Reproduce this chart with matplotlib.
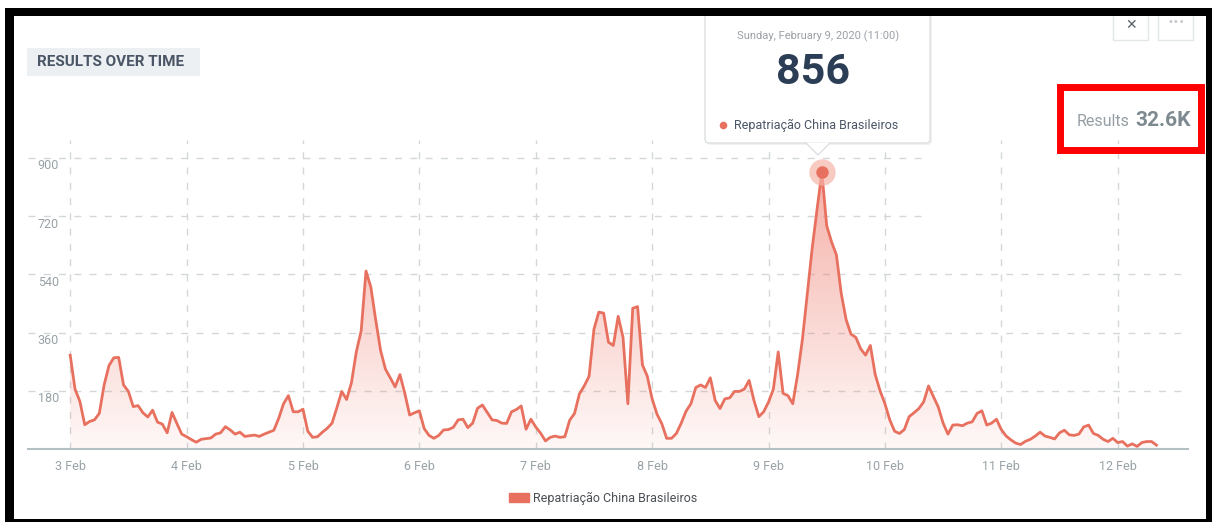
import numpy as np
import pandas as pd
import matplotlib
matplotlib.use("Agg")
import matplotlib.pyplot as plt
import matplotlib.dates as mdates
import matplotlib.transforms as mtransforms
from matplotlib.patches import Rectangle, FancyBboxPatch, Polygon, Patch

# hourly mentions, 3 Feb 2020 00:00 -> 12 Feb 2020 08:00
start = "2020-02-03 00:00"
series_name = "Repatriação China Brasileiros"
values = [
    # 3 Feb
    290, 185, 147, 75, 85, 90, 110, 198, 258, 282, 283, 198,
    178, 131, 134, 112, 99, 120, 83, 77, 50, 113, 79, 46,
    # 4 Feb
    38, 29, 21, 30, 32, 34, 46, 50, 69, 59, 46, 52,
    39, 41, 43, 39, 46, 52, 58, 95, 140, 165, 115, 115,
    # 5 Feb
    123, 55, 36, 38, 52, 64, 80, 128, 178, 153, 205, 300,
    365, 550, 500, 399, 305, 247, 220, 192, 230, 172, 105, 112,
    # 6 Feb
    118, 63, 42, 33, 42, 59, 60, 67, 90, 92, 66, 80,
    126, 136, 113, 90, 88, 80, 79, 115, 122, 133, 61, 92,
    # 7 Feb
    68, 49, 25, 36, 40, 36, 38, 89, 110, 170, 195, 225,
    370, 423, 420, 330, 320, 410, 345, 140, 435, 440, 260, 225,
    # 8 Feb
    155, 108, 78, 33, 33, 48, 80, 117, 140, 190, 198, 190,
    220, 150, 125, 155, 158, 178, 178, 185, 212, 150, 100, 115,
    # 9 Feb
    145, 185, 300, 172, 165, 140, 230, 340, 480, 620, 740, 856,
    690, 640, 600, 480, 400, 355, 345, 310, 290, 320, 230, 180,
    # 10 Feb
    140, 90, 55, 48, 60, 100, 112, 125, 146, 195, 162, 130,
    80, 46, 74, 75, 72, 80, 84, 110, 118, 74, 80, 92,
    # 11 Feb
    60, 40, 28, 18, 14, 24, 30, 40, 52, 40, 36, 31,
    50, 58, 44, 42, 46, 68, 74, 48, 42, 30, 23, 33,
    # 12 Feb
    20, 23, 9, 16, 8, 20, 23, 23, 12,
]
y_ticks = [180, 360, 540, 720, 900]
peak_time = "2020-02-09 11:00"
peak_label = "Sunday, February 9, 2020 (11:00)"
total_label = "32.6K"

times = pd.date_range(start, periods=len(values), freq="h")
vals = np.array(values, dtype=float)

W, H = 1212, 522
line_c = "#e8705f"
grid_c = "#d4d7d9"
tick_c = "#98a2a7"

plt.rcParams["font.family"] = ["Roboto", "DejaVu Sans"]

fig = plt.figure(figsize=(W / 100, H / 100), dpi=100)
fig.patch.set_facecolor("white")

# main plot area, placed in pixels
L, R, T, B = 28, 1188, 140, 449
ax = fig.add_axes([L / W, 1 - B / H, (R - L) / W, (B - T) / H])
ax.set_facecolor("none")

t0 = pd.Timestamp(start)
ax.set_xlim(t0 - pd.Timedelta(hours=8.7), t0 + pd.Timedelta(hours=230.5))
ax.set_ylim(0, 955)

# gradient fill under the line
poly = ax.fill_between(times, vals, 0, color="none", lw=0)
x0n, x1n = mdates.date2num(times[0]), mdates.date2num(times[-1])
grad = np.zeros((256, 1, 4))
grad[..., 0], grad[..., 1], grad[..., 2] = 0.93, 0.45, 0.39
grad[:, 0, 3] = np.linspace(0.05, 0.62, 256)
im = ax.imshow(grad, extent=[x0n, x1n, 0, 955], origin="lower",
               aspect="auto", zorder=1, interpolation="bilinear")
im.set_clip_path(poly.get_paths()[0], transform=ax.transData)
ax.set_xlim(t0 - pd.Timedelta(hours=8.7), t0 + pd.Timedelta(hours=230.5))
ax.set_ylim(0, 955)

ax.plot(times, vals, color=line_c, lw=2, zorder=3, solid_joinstyle="round")

# grid
day_ticks = pd.date_range("2020-02-03", "2020-02-12", freq="D")
for d in day_ticks:
    ax.axvline(d, color=grid_c, lw=1, ls=(0, (5, 6)), zorder=0)
gx_end = t0 + pd.Timedelta(hours=(923 - 70) / 4.85)
for v in y_ticks:
    xmax = gx_end if v >= 720 else ax.get_xlim()[1]
    ax.hlines(v, ax.get_xlim()[0], xmax, color=grid_c, lw=1,
              ls=(0, (5, 6)), zorder=0)

for s in ["top", "right", "left"]:
    ax.spines[s].set_visible(False)
ax.spines["bottom"].set_color("#b5c0c4")
ax.spines["bottom"].set_linewidth(1.5)
ax.set_yticks([])
ax.set_xticks(day_ticks)
ax.xaxis.set_major_formatter(mdates.DateFormatter("%-d Feb"))
ax.tick_params(axis="x", length=0, pad=8, labelsize=9, labelcolor=tick_c)

# y labels sit inside the plot, just under their grid line
lab_tr = mtransforms.offset_copy(
    mtransforms.blended_transform_factory(ax.transAxes, ax.transData),
    fig=fig, x=0, y=-8, units="dots")
for v in y_ticks:
    ax.text((59 - L) / (R - L), v, str(v), transform=lab_tr, ha="right",
            va="center", fontsize=9, color=tick_c)

# highlighted peak
pt = pd.Timestamp(peak_time)
pv = vals[list(times).index(pt)]
ax.scatter([pt], [pv], s=360, color="#f4b4a9", alpha=0.7, zorder=4, lw=0)
ax.scatter([pt], [pv], s=80, color=line_c, zorder=5, lw=0)

# overlay in pixel coordinates for the dashboard furniture
ov = fig.add_axes([0, 0, 1, 1], zorder=10)
ov.set_xlim(0, W)
ov.set_ylim(H, 0)
ov.axis("off")
ov.patch.set_alpha(0)

# title chip
ov.add_patch(Rectangle((27, 48), 173, 28, color="#edf0f3", lw=0))
ov.text(37, 62, "RESULTS OVER TIME", fontsize=11, fontweight="bold",
        color="#4a5566", va="center", ha="left")

# tooltip
ov.add_patch(FancyBboxPatch((707, 6), 225, 139,
                            boxstyle="round,pad=0,rounding_size=4",
                            fc="#e6e8ea", ec="none", alpha=0.6))
ov.add_patch(FancyBboxPatch((705, 4), 225, 139,
                            boxstyle="round,pad=0,rounding_size=4",
                            fc="white", ec="#dcdfe2", lw=1))
ov.add_patch(Polygon([[806, 142.5], [830, 142.5], [818, 155]],
                     closed=True, fc="white", ec="none"))
ov.plot([806, 818, 830], [143, 155, 143], color="#dcdfe2", lw=1)
ov.text(818, 36, peak_label, fontsize=8, color="#9aa0a6",
        ha="center", va="center")
ov.text(813, 72, f"{int(pv)}", fontsize=31, fontweight="bold",
        color="#2c3e55", ha="center", va="center")
ov.scatter([723], [125], s=30, color=line_c, lw=0)
ov.text(734, 125, series_name, fontsize=9, color="#4a5566",
        ha="left", va="center")

# results counter with red highlight box
ov.text(1130, 121, "Results", fontsize=11.5, color="#949ea4",
        ha="right", va="center")
ov.text(1135, 120, total_label, fontsize=15, fontweight="bold",
        color="#7d8b91", ha="left", va="center")
ov.add_patch(Rectangle((1059.5, 86.5), 141, 63, fill=False,
                       ec="#ff0000", lw=5))

# toolbar buttons
for bx in (1113, 1158):
    ov.add_patch(Rectangle((bx, 10), 35, 30, fill=False,
                           ec="#e3e6e8", lw=1))
ov.text(1131, 25, "✕", fontsize=10, color="#55606a", ha="center",
        va="center", fontweight="bold", family="DejaVu Sans")
ov.text(1176, 22, "•••", fontsize=7, color="#c3c8cc", ha="center",
        va="center", family="DejaVu Sans")

# legend
fig.legend(handles=[Patch(color=line_c)], labels=[series_name],
           loc="center", bbox_to_anchor=(603 / W, 1 - 498 / H),
           frameon=False, fontsize=9, handlelength=1.6, handleheight=0.75,
           handletextpad=0.3, labelcolor="#4a4f55")

# black frame of the screenshot
ov.add_patch(Rectangle((0, 0), W, 8, color="white", lw=0))
ov.add_patch(Rectangle((5, 8), W - 5, 8, color="black", lw=0))
ov.add_patch(Rectangle((5, 8), 9, H - 8, color="black", lw=0))
ov.add_patch(Rectangle((1206, 8), 6, H - 8, color="black", lw=0))
ov.add_patch(Rectangle((5, 519), W - 5, 3, color="black", lw=0))

fig.savefig("out.png", dpi=100)
